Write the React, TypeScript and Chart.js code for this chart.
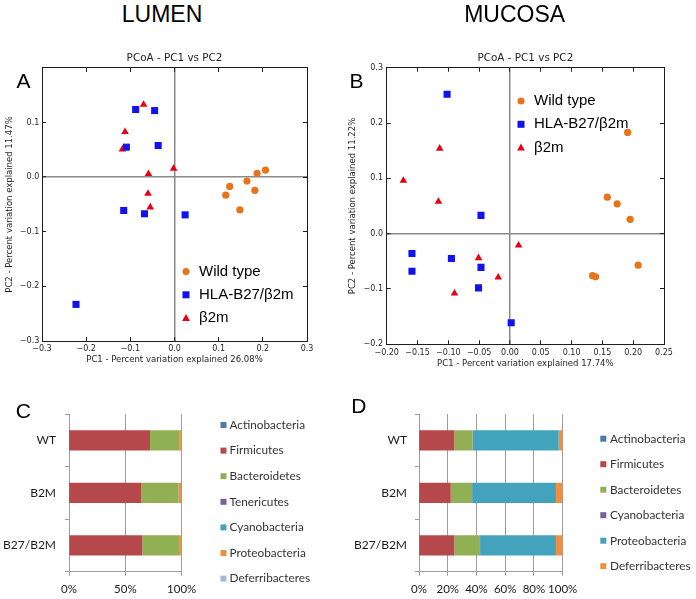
import React, { useEffect, useRef } from 'react';
import { Chart, registerables } from 'chart.js';

Chart.register(...registerables);

// ---------------- DATA ----------------
const groupLabels = ['Wild type', 'HLA-B27/\u03b22m', '\u03b22m'];

// Panel A – LUMEN PCoA
const lumenWildTypeX = [0.206, 0.187, 0.164, 0.125, 0.182, 0.116, 0.148];
const lumenWildTypeY = [0.013, 0.007, -0.007, -0.017, -0.024, -0.033, -0.06];
const lumenHlaX = [-0.088, -0.045, -0.109, -0.037, -0.115, -0.068, 0.024, -0.223];
const lumenHlaY = [0.124, 0.122, 0.055, 0.058, -0.061, -0.067, -0.069, -0.233];
const lumenB2mX = [-0.07, -0.112, -0.118, -0.059, -0.002, -0.06, -0.055];
const lumenB2mY = [0.133, 0.083, 0.051, 0.006, 0.016, -0.03, -0.055];

// Panel B – MUCOSA PCoA
const mucosaWildTypeX = [0.191, 0.158, 0.174, 0.195, 0.208, 0.134, 0.139];
const mucosaWildTypeY = [0.183, 0.066, 0.054, 0.026, -0.057, -0.076, -0.078];
const mucosaHlaX = [-0.102, -0.047, -0.159, -0.095, -0.047, -0.159, -0.051, 0.002];
const mucosaHlaY = [0.252, 0.033, -0.036, -0.045, -0.061, -0.068, -0.098, -0.161];
const mucosaB2mX = [-0.114, -0.173, -0.116, 0.014, -0.051, -0.019, -0.09];
const mucosaB2mY = [0.154, 0.096, 0.058, -0.021, -0.044, -0.079, -0.108];

// Panels C & D – relative abundance (%)
const barCategories = ['WT', 'B2M', 'B27/B2M'];

const lumenPhyla = ['Actinobacteria', 'Firmicutes', 'Bacteroidetes', 'Tenericutes', 'Cyanobacteria', 'Proteobacteria', 'Deferribacteres'];
const lumenActinobacteria = [0.1, 0.1, 0.4];
const lumenFirmicutes = [71.8, 64.2, 64.6];
const lumenBacteroidetes = [25.8, 32.8, 32.6];
const lumenTenericutes = [0.1, 0.1, 0.1];
const lumenCyanobacteria = [0.1, 0.1, 0.1];
const lumenProteobacteria = [2.0, 2.6, 2.1];
const lumenDeferribacteres = [0.1, 0.1, 0.1];

const mucosaPhyla = ['Actinobacteria', 'Firmicutes', 'Bacteroidetes', 'Cyanobacteria', 'Proteobacteria', 'Deferribacteres'];
const mucosaActinobacteria = [0.1, 0.1, 0.1];
const mucosaFirmicutes = [24.5, 22.0, 24.5];
const mucosaBacteroidetes = [12.6, 14.8, 17.8];
const mucosaCyanobacteria = [0.1, 0.1, 0.1];
const mucosaProteobacteria = [59.9, 58.3, 52.8];
const mucosaDeferribacteres = [2.8, 4.7, 4.7];

// ---------------- STYLE ----------------
const ORANGE = '#e8731a';
const BLUE = '#1212ee';
const RED = '#e60012';
const FRAME = '#1e1e1e';
const ZERO_LINE = '#8a8a8a';
const BAR_GRID = '#9c9c9c';
const lumenColors = ['#4a7bb5', '#b5484a', '#91b054', '#7a5f9c', '#43a3bc', '#ef8f42', '#a3b8de'];
const mucosaColors = ['#4a7bb5', '#b5484a', '#91b054', '#7a5f9c', '#43a3bc', '#ef8f42'];
const MPL_FONT = '"DejaVu Sans", sans-serif';
const XL_FONT = 'Lato, "Open Sans", sans-serif';
const SANS = '"Liberation Sans", Arial, sans-serif';

const zip = (xs: number[], ys: number[]) => xs.map((x, i) => ({ x, y: ys[i] }));
const fmt = (v: number, d: number) => {
  const n = Math.abs(v) < 1e-9 ? 0 : v;
  const s = n.toFixed(d);
  return s.charAt(0) === '-' ? '\u2212' + s.slice(1) : s;
};
const isZero = (c: any) => !!c.tick && Math.abs(c.tick.value) < 1e-9;

const innerLegend = {
  id: 'innerLegend',
  afterDraw(chart: any, _a: any, opts: any) {
    if (!opts || !opts.show) return;
    const ctx = chart.ctx;
    ctx.save();
    ctx.font = opts.fontSpec;
    ctx.textBaseline = 'middle';
    ctx.textAlign = 'left';
    chart.data.datasets.forEach((ds: any, i: number) => {
      const cy = opts.y + i * opts.gap;
      const cx = opts.markX;
      const s = opts.size;
      ctx.fillStyle = ds.backgroundColor;
      ctx.beginPath();
      if (opts.kind === 'box' || ds.pointStyle === 'rect') {
        ctx.rect(cx - s / 2, cy - s / 2, s, s);
      } else if (ds.pointStyle === 'circle') {
        ctx.arc(cx, cy, s / 2, 0, Math.PI * 2);
      } else {
        ctx.moveTo(cx, cy - s * 0.6);
        ctx.lineTo(cx + s * 0.56, cy + s * 0.4);
        ctx.lineTo(cx - s * 0.56, cy + s * 0.4);
        ctx.closePath();
      }
      ctx.fill();
      ctx.fillStyle = opts.textColor;
      ctx.fillText(ds.label, opts.textX, cy);
    });
    ctx.restore();
  },
};

function scatterConfig(o: any): any {
  const tickFont = { family: MPL_FONT, size: 8 };
  const zeroGrid = {
    drawOnChartArea: true,
    color: (c: any) => (isZero(c) ? ZERO_LINE : 'rgba(0,0,0,0)'),
    lineWidth: (c: any) => (isZero(c) ? 1.5 : 1),
    tickColor: FRAME,
    tickWidth: 1,
    tickLength: -4,
  };
  const sideGrid = { drawOnChartArea: false, color: FRAME, tickColor: FRAME, tickWidth: 1, tickLength: -4 };
  const border = { display: true, color: FRAME, width: 1 };
  return {
    type: 'scatter',
    data: {
      datasets: [
        { label: groupLabels[0], data: zip(o.wtX, o.wtY), pointStyle: 'circle', pointRadius: 3.6, backgroundColor: ORANGE, borderColor: ORANGE, borderWidth: 0 },
        { label: groupLabels[1], data: zip(o.hlaX, o.hlaY), pointStyle: 'rect', pointRadius: 5, backgroundColor: BLUE, borderColor: BLUE, borderWidth: 0 },
        { label: groupLabels[2], data: zip(o.b2mX, o.b2mY), pointStyle: 'triangle', pointRadius: 4.4, backgroundColor: RED, borderColor: RED, borderWidth: 0 },
      ],
    },
    options: {
      responsive: false,
      animation: false,
      events: [],
      layout: { padding: { left: 0, top: 0, right: o.padRight, bottom: 0 } },
      plugins: {
        legend: { display: false },
        tooltip: { enabled: false },
        title: {
          display: true,
          text: 'PCoA - PC1 vs PC2',
          fullSize: false,
          color: FRAME,
          font: { family: MPL_FONT, size: 10.4, weight: 'normal' },
          padding: { top: o.titleTop, bottom: o.titleBottom },
        },
        innerLegend: { show: true, kind: 'point', fontSpec: '15px ' + SANS, textColor: '#000', markX: o.legX, textX: o.legTextX, y: o.legY, gap: 23.3, size: 7 },
      },
      scales: {
        x: {
          type: 'linear', axis: 'x', position: 'bottom', min: o.xMin, max: o.xMax,
          ticks: { stepSize: o.xStep, autoSkip: false, maxRotation: 0, font: tickFont, color: FRAME, padding: o.xTickPad, callback: (v: any) => fmt(Number(v), o.xDec) },
          grid: zeroGrid, border,
          title: { display: true, text: o.xTitle, color: FRAME, font: { family: MPL_FONT, size: 8.5 }, padding: { top: 0, bottom: o.xTitlePad } },
          afterFit: (s: any) => { s.height = o.xHeight; },
        },
        x2: {
          type: 'linear', axis: 'x', position: 'top', min: o.xMin, max: o.xMax,
          ticks: { display: false, stepSize: o.xStep },
          grid: sideGrid, border,
          afterFit: (s: any) => { s.height = 0; },
        },
        y: {
          type: 'linear', axis: 'y', position: 'left', min: o.yMin, max: o.yMax,
          ticks: { stepSize: o.yStep, autoSkip: false, font: tickFont, color: FRAME, padding: o.yTickPad, callback: (v: any) => (o.hideYMax && Math.abs(Number(v) - o.yMax) < 1e-9 ? '' : fmt(Number(v), o.yDec)) },
          grid: zeroGrid, border,
          title: { display: true, text: o.yTitle, color: FRAME, font: { family: MPL_FONT, size: 8.5 }, padding: { top: o.yTitlePad, bottom: 0 } },
          afterFit: (s: any) => { s.width = o.yWidth; },
        },
        y2: {
          type: 'linear', axis: 'y', position: 'right', min: o.yMin, max: o.yMax,
          ticks: { display: false, stepSize: o.yStep },
          grid: sideGrid, border,
          afterFit: (s: any) => { s.width = 0; },
        },
      },
    },
    plugins: [innerLegend],
  };
}

function barConfig(o: any): any {
  return {
    type: 'bar',
    data: {
      labels: barCategories,
      datasets: o.names.map((name: string, i: number) => ({
        label: name,
        data: o.values[i],
        backgroundColor: o.colors[i],
        borderWidth: 0,
        barPercentage: 0.385,
        categoryPercentage: 1,
      })),
    },
    options: {
      indexAxis: 'y',
      responsive: false,
      animation: false,
      events: [],
      layout: { padding: { left: 0, top: 19, right: o.padRight, bottom: 0 } },
      plugins: {
        legend: { display: false },
        tooltip: { enabled: false },
        innerLegend: { show: true, kind: 'box', fontSpec: '11.8px ' + XL_FONT, textColor: '#333', markX: o.legX, textX: o.legTextX, y: o.legY, gap: o.legGap, size: 6 },
      },
      scales: {
        x: {
          stacked: true, min: 0, max: 100,
          ticks: { stepSize: o.step, autoSkip: false, maxRotation: 0, font: { family: XL_FONT, size: 11.5 }, color: '#1a1a1a', padding: 7, callback: (v: any) => v + '%' },
          grid: { color: BAR_GRID, tickColor: BAR_GRID, tickLength: 4, drawTicks: true },
          border: { display: true, color: BAR_GRID },
          afterFit: (s: any) => { s.height = 27.3; },
        },
        y: {
          stacked: true,
          ticks: { font: { family: XL_FONT, size: 12 }, color: '#1a1a1a', padding: o.yTickPad },
          grid: { drawOnChartArea: false, color: BAR_GRID, tickColor: BAR_GRID, tickLength: 4, offset: true },
          border: { display: true, color: BAR_GRID },
          afterFit: (s: any) => { s.width = o.yWidth; },
        },
      },
    },
    plugins: [innerLegend],
  };
}

function ChartBox(props: { left: number; top: number; width: number; height: number; make: () => any }) {
  const ref = useRef<HTMLCanvasElement>(null);
  useEffect(() => {
    const chart = new Chart(ref.current as HTMLCanvasElement, props.make());
    return () => chart.destroy();
  }, []);
  return (
    <div style={{ position: 'absolute', left: props.left, top: props.top, width: props.width, height: props.height }}>
      <canvas ref={ref} width={props.width} height={props.height} style={{ display: 'block' }} />
    </div>
  );
}

const textStyle = (left: number, top: number, size: number, extra: any = {}): any => ({
  position: 'absolute', left, top, fontFamily: SANS, fontSize: size, lineHeight: size + 'px', color: '#000', whiteSpace: 'nowrap', ...extra,
});

export default function App() {
  return (
    <div style={{ position: 'absolute', left: 0, top: 0, width: 696, height: 599, background: '#fff', overflow: 'hidden' }}>
      <ChartBox left={0} top={40} width={348} height={340} make={() => scatterConfig({
        wtX: lumenWildTypeX, wtY: lumenWildTypeY, hlaX: lumenHlaX, hlaY: lumenHlaY, b2mX: lumenB2mX, b2mY: lumenB2mY,
        xMin: -0.3, xMax: 0.3, xStep: 0.1, xDec: 1, yMin: -0.3, yMax: 0.2, yStep: 0.1, yDec: 1, hideYMax: true,
        xTitle: 'PC1 - Percent variation explained 26.08%', yTitle: 'PC2 - Percent variation explained 11.47%',
        padRight: 41, yWidth: 42, xHeight: 39, titleTop: 11.8, titleBottom: 3.7,
        xTickPad: 7.2, yTickPad: 6.7, xTitlePad: 14.9, yTitlePad: 4.9,
        legX: 186, legTextX: 199, legY: 231.5,
      })} />
      <ChartBox left={340} top={40} width={356} height={340} make={() => scatterConfig({
        wtX: mucosaWildTypeX, wtY: mucosaWildTypeY, hlaX: mucosaHlaX, hlaY: mucosaHlaY, b2mX: mucosaB2mX, b2mY: mucosaB2mY,
        xMin: -0.2, xMax: 0.25, xStep: 0.05, xDec: 2, yMin: -0.2, yMax: 0.3, yStep: 0.1, yDec: 1, hideYMax: false,
        xTitle: 'PC1 - Percent variation explained 17.74%', yTitle: 'PC2 - Percent variation explained 11.22%',
        padRight: 32, yWidth: 46.7, xHeight: 35.7, titleTop: 11.76, titleBottom: 3.46,
        xTickPad: 8.2, yTickPad: 7.7, xTitlePad: 11.2, yTitlePad: 7.9,
        legX: 181, legTextX: 194, legY: 61,
      })} />
      <ChartBox left={0} top={395} width={348} height={204} make={() => barConfig({
        names: lumenPhyla,
        values: [lumenActinobacteria, lumenFirmicutes, lumenBacteroidetes, lumenTenericutes, lumenCyanobacteria, lumenProteobacteria, lumenDeferribacteres],
        colors: lumenColors, step: 50, padRight: 166.3, yWidth: 69, yTickPad: 9,
        legX: 223.5, legTextX: 229.5, legY: 30, legGap: 25.6,
      })} />
      <ChartBox left={348} top={395} width={348} height={204} make={() => barConfig({
        names: mucosaPhyla,
        values: [mucosaActinobacteria, mucosaFirmicutes, mucosaBacteroidetes, mucosaCyanobacteria, mucosaProteobacteria, mucosaDeferribacteres],
        colors: mucosaColors, step: 20, padRight: 133.3, yWidth: 71, yTickPad: 8,
        legX: 255.3, legTextX: 262, legY: 43.7, legGap: 25.5,
      })} />
      <div style={textStyle(62, 3, 23, { width: 200, textAlign: 'center' })}>LUMEN</div>
      <div style={textStyle(414.7, 3, 23, { width: 200, textAlign: 'center' })}>MUCOSA</div>
      <div style={textStyle(16.5, 69.8, 21)}>A</div>
      <div style={textStyle(349.6, 70, 21)}>B</div>
      <div style={textStyle(15.7, 400.3, 21)}>C</div>
      <div style={textStyle(351.3, 395, 21)}>D</div>
    </div>
  );
}
